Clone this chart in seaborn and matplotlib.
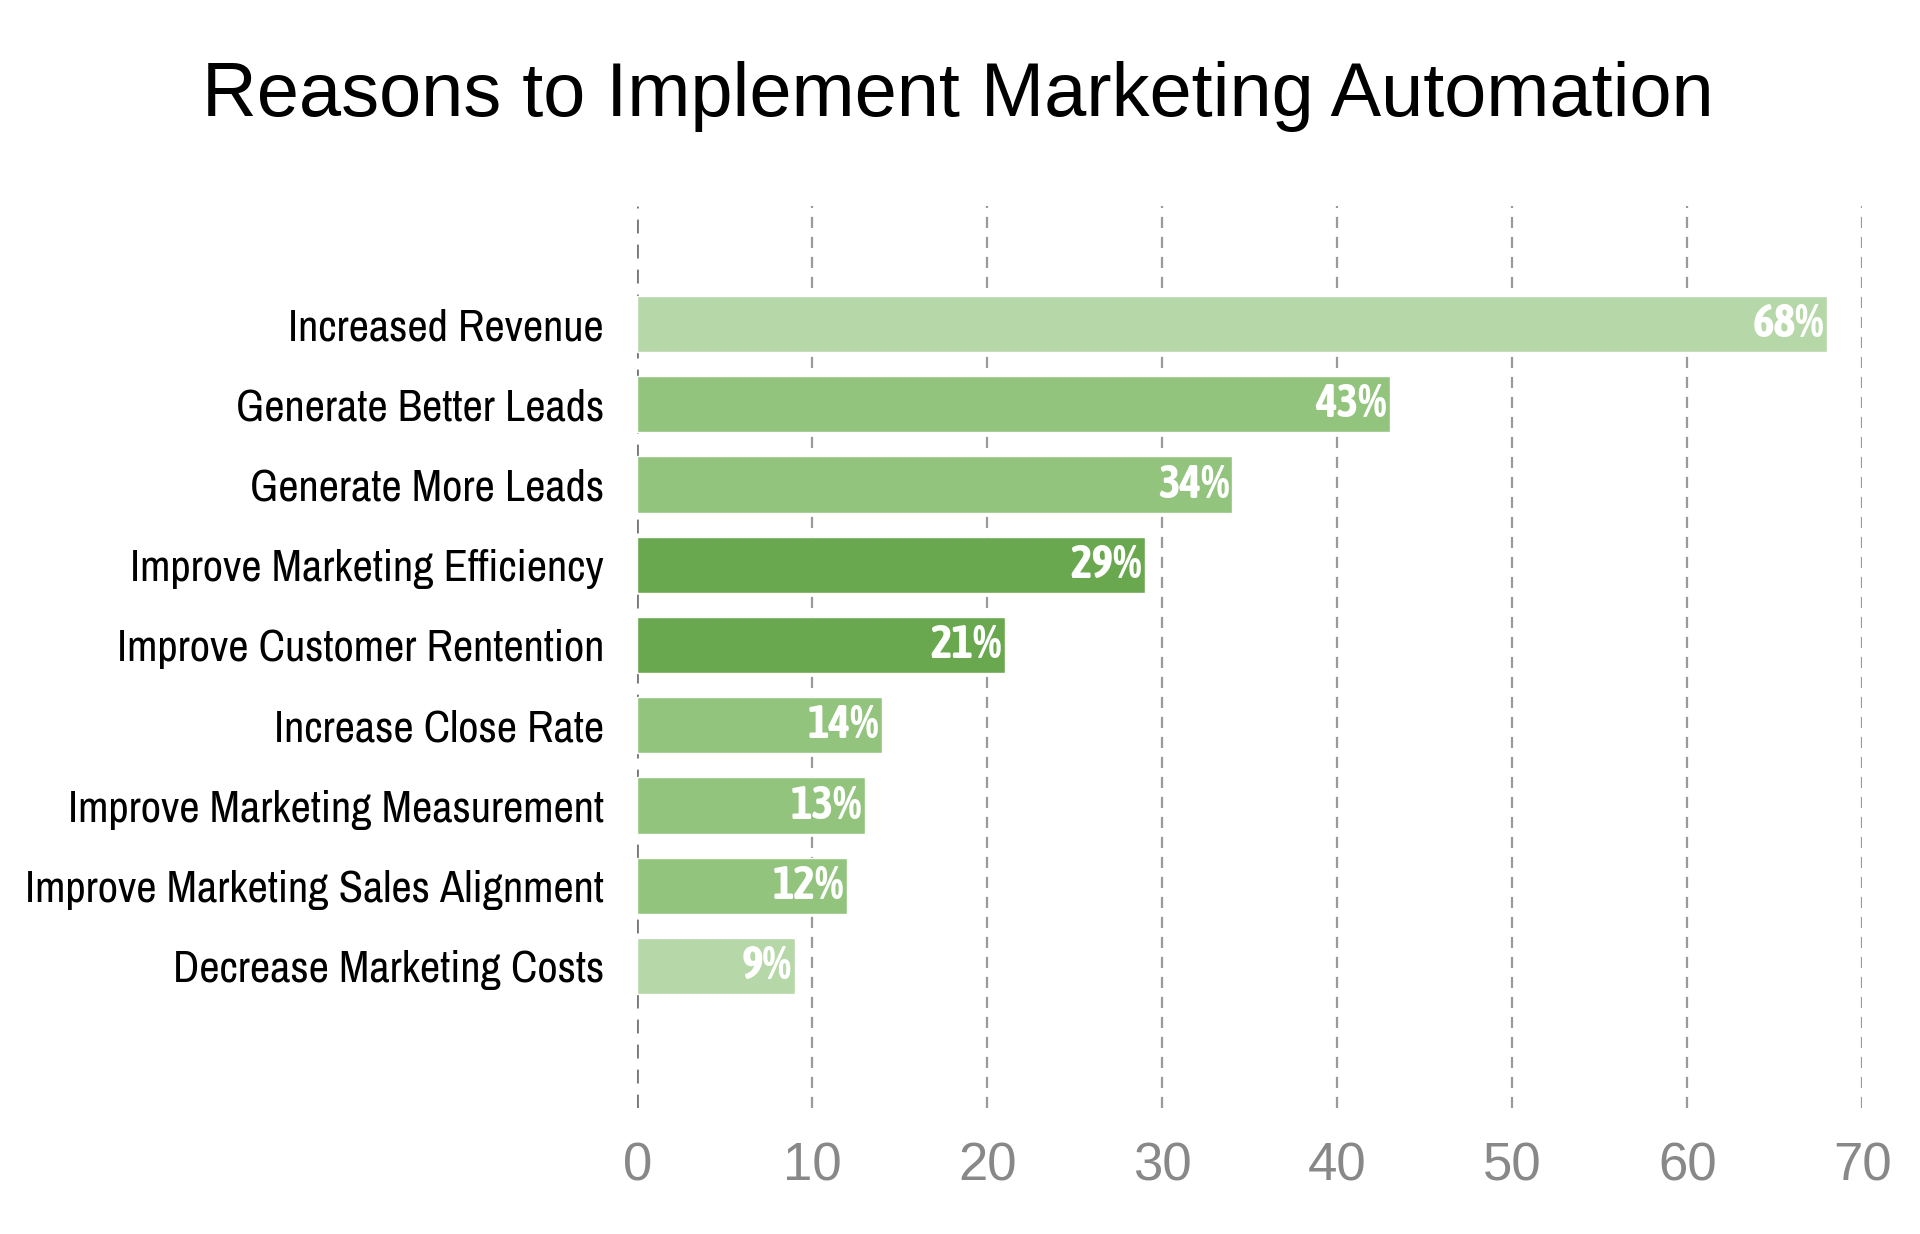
import pandas as pd
import matplotlib.pyplot as plt
import seaborn as sns
from matplotlib import font_manager

reasons = [
    "Increased Revenue",
    "Generate Better Leads",
    "Generate More Leads",
    "Improve Marketing Efficiency",
    "Improve Customer Rentention",
    "Increase Close Rate",
    "Improve Marketing Measurement",
    "Improve Marketing Sales Alignment",
    "Decrease Marketing Costs",
]
percent = [68, 43, 34, 29, 21, 14, 13, 12, 9]
bar_colors = [
    "#b6d7a8", "#93c47d", "#93c47d", "#6aa84f", "#6aa84f",
    "#93c47d", "#93c47d", "#93c47d", "#b6d7a8",
]
x_ticks = [0, 10, 20, 30, 40, 50, 60, 70]

# look for a condensed face, the reference uses a narrow sans
fonts = font_manager.fontManager.ttflist
narrow_names = sorted({f.name for f in fonts
                       if "narrow" in f.name.lower() or "condensed" in f.name.lower()})
narrow = narrow_names[0] if narrow_names else "DejaVu Sans"
narrow_bold = narrow
for name in narrow_names:
    weights = [f.weight for f in fonts if f.name == name]
    if any((w if isinstance(w, int) else 400) >= 600 or w == "bold" for w in weights):
        narrow_bold = name
        break

df = pd.DataFrame({"reason": reasons, "percent": percent})

sns.set_style("white")
fig = plt.figure(figsize=(19.2, 12.34), dpi=100)
ax = fig.add_axes([0.332, 0.102, 0.638, 0.731])

sns.barplot(
    data=df, x="percent", y="reason", hue="reason",
    palette=bar_colors, legend=False, width=0.7, saturation=1, ax=ax,
)

for i, v in enumerate(percent):
    ax.annotate(
        f"{v}%", xy=(v, i), xytext=(-2, 0), textcoords="offset points",
        ha="right", va="center", color="white", fontsize=33,
        fontweight="bold", family=narrow_bold, fontstretch="condensed",
    )

ax.set_xlim(0, 70)
ax.set_ylim(9.77, -1.47)
ax.set_xticks(x_ticks)
ax.set_xlabel("")
ax.set_ylabel("")
ax.grid(axis="x", color="#9a9a9a", linestyle=(0, (5, 4)), linewidth=1.6)
ax.get_xgridlines()[0].set_color("#777777")
ax.get_xgridlines()[0].set_linewidth(2)
ax.set_axisbelow(True)
for s in ax.spines.values():
    s.set_visible(False)

ax.tick_params(axis="x", length=0, pad=24, labelsize=38, labelcolor="#888888")
ax.tick_params(axis="y", length=0, pad=24)
for lab in ax.get_xticklabels():
    lab.set_family("Liberation Sans")
for lab in ax.get_yticklabels():
    lab.set_family(narrow)
    lab.set_fontstretch("condensed")
    lab.set_fontsize(32)
    lab.set_color("black")

fig.text(0.499, 0.922, "Reasons to Implement Marketing Automation",
         ha="center", va="center", fontsize=54.5, family="Liberation Sans",
         color="black")

fig.savefig("out.png", dpi=100)
